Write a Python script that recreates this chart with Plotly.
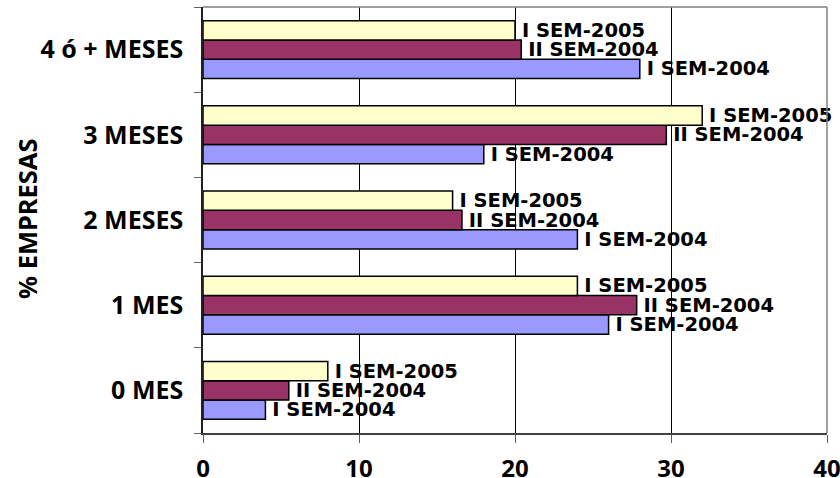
import plotly.graph_objects as go

categories = ["0 MES", "1 MES", "2 MESES", "3 MESES", "4 ó + MESES"]
series_names = ["I SEM-2004", "II SEM-2004", "I SEM-2005"]
i_sem_2004 = [4, 26, 24, 18, 28]
ii_sem_2004 = [5.5, 27.8, 16.6, 29.7, 20.4]
i_sem_2005 = [8, 24, 16, 32, 20]
x_ticks = [0, 10, 20, 30, 40]

values = [i_sem_2004, ii_sem_2004, i_sem_2005]
colors = ["#9999FF", "#993366", "#FFFFCC"]

LABEL_FONT = "DejaVu Sans"
AXIS_FONT = "Noto Sans"

fig = go.Figure()
for name, vals, col in zip(series_names, values, colors):
    fig.add_trace(go.Bar(
        y=categories, x=vals, orientation="h", name=name,
        marker=dict(color=col, line=dict(color="black", width=1.5)),
        text=["\u2009" + name] * len(vals), textposition="outside",
        textfont=dict(family=LABEL_FONT, size=19.5, color="black", weight="bold"),
        cliponaxis=False, constraintext="none",
    ))

fig.update_layout(
    width=840, height=478,
    margin=dict(l=203, r=13, t=7, b=45),
    paper_bgcolor="white", plot_bgcolor="white",
    barmode="group", bargap=0.32, bargroupgap=0,
    showlegend=False,
    font=dict(family=AXIS_FONT, color="black"),
    annotations=[dict(
        text="% EMPRESAS", textangle=-90, showarrow=False,
        xref="paper", yref="paper", x=0, y=0.5, xanchor="center", yanchor="middle",
        xshift=-176, yshift=1,
        font=dict(family=AXIS_FONT, size=25.5, color="black", weight="bold"),
    )],
    shapes=[
        dict(type="line", xref="paper", yref="paper", x0=0, x1=1, y0=1, y1=1,
             line=dict(color="#808080", width=1.5)),
        dict(type="line", xref="paper", yref="paper", x0=1, x1=1, y0=0, y1=1,
             line=dict(color="#808080", width=1.5)),
    ],
)
fig.update_xaxes(
    range=[0, 40], tickvals=x_ticks, ticktext=[str(v) for v in x_ticks],
    showgrid=True, gridcolor="black", gridwidth=1,
    showline=True, linecolor="#404040", linewidth=1.5,
    ticks="outside", ticklen=8, tickcolor="#606060",
    tickfont=dict(family=AXIS_FONT, size=24, color="black", weight="bold"),
    ticklabelstandoff=5, ticklabeloverflow="allow",
    zeroline=False, automargin=False,
)
fig.update_yaxes(
    categoryorder="array", categoryarray=categories,
    showgrid=False, showline=True, linecolor="#202020", linewidth=1.5,
    ticks="outside", ticklen=7, tickcolor="#606060", tickson="boundaries",
    tickfont=dict(family=AXIS_FONT, size=25, color="black", weight="bold"),
    ticklabelstandoff=13, automargin=False,
)

fig.write_html("out.html", config={"displayModeBar": False},
               post_script="document.body.style.margin='0px';")
